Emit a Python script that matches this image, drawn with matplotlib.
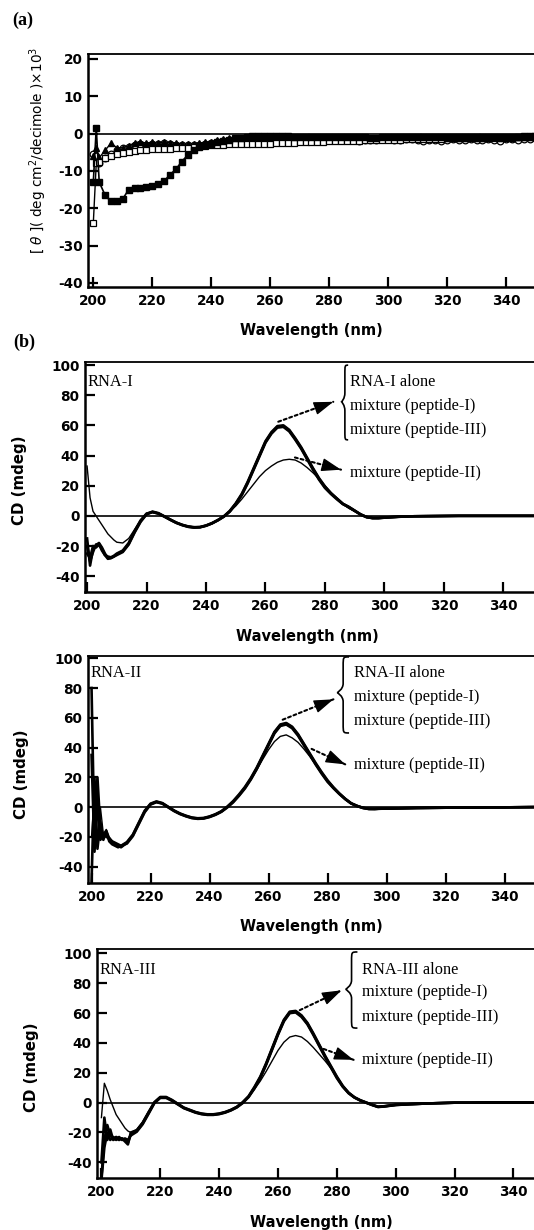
import numpy as np
import matplotlib
matplotlib.use('Agg')
import matplotlib.pyplot as plt
from matplotlib.path import Path
from matplotlib.patches import PathPatch

# ---------------- data: panel (a) ----------------
wl_a = np.concatenate([[200, 201], np.arange(202, 351, 2)])
theta_filled_sq = [-13, 1.5, -13, -16.5, -18.2, -18, -17.5, -15, -14.5, -14.5, -14.3, -14, -13.5, -12.8,
                   -11, -9.6, -7.5, -5.8, -4.5, -3.5, -3, -2.7, -2.4, -2, -1.6, -1.3, -1.1, -0.9, -0.7,
                   -0.6, -0.6, -0.6, -0.6, -0.7, -0.7, -0.8, -0.8, -0.8, -0.9, -0.9, -0.9, -0.9, -1, -1,
                   -1, -1, -1, -1, -1.1, -1.1, -1, -1, -1, -1, -1, -0.9, -0.9, -0.9, -0.9, -0.9, -0.9,
                   -0.9, -0.9, -0.9, -0.9, -0.8, -0.8, -0.8, -0.8, -0.8, -0.8, -0.8, -0.8, -0.8, -0.7,
                   -0.7, -0.7]
theta_open_sq = [-24, -8, -7.5, -6.5, -6, -5.5, -5.2, -5, -4.8, -4.5, -4.3, -4.2, -4.2, -4.2, -4.2, -4,
                 -4, -3.8, -3.6, -3.4, -3.3, -3.2, -3.1, -3, -2.9, -2.9, -2.9, -2.8, -2.8, -2.8, -2.7,
                 -2.7, -2.6, -2.6, -2.5, -2.5, -2.4, -2.3, -2.3, -2.2, -2.2, -2.1, -2.1, -2, -2, -1.9,
                 -1.9, -1.8, -1.8, -1.7, -1.7, -1.6, -1.6, -1.6, -1.5, -1.5, -1.5, -1.4, -1.4, -1.4,
                 -1.4, -1.3, -1.3, -1.3, -1.3, -1.2, -1.2, -1.2, -1.2, -1.1, -1.1, -1.1, -1.1, -1.0,
                 -1.0, -1.0, -1.0]
theta_open_ci = [-5.5, -6, -8, -6.5, -5.5, -4.5, -4, -3.5, -3, -2.8, -3, -2.7, -2.8, -2.5, -2.8, -3, -3,
                 -3.2, -3.2, -3, -2.8, -2.5, -2.2, -2, -1.8, -1.8, -1.7, -1.6, -1.5, -1.5, -1.5, -1.5,
                 -1.6, -1.5, -1.6, -1.5, -1.6, -1.7, -1.6, -1.5, -1.6, -1.7, -1.8, -1.6, -1.7, -1.8, -2,
                 -1.8, -1.7, -1.6, -1.5, -1.4, -1.6, -1.8, -1.5, -1.4, -1.6, -2, -1.8, -1.6, -1.9, -1.7,
                 -1.5, -1.8, -1.6, -1.5, -1.7, -1.6, -1.4, -1.6, -1.9, -1.5, -1.4, -1.6, -1.4, -1.5,
                 -1.3]
theta_triangle = [-6, -4, -6.5, -4.5, -2.6, -3.8, -3.8, -3.3, -2.5, -2.2, -2.6, -2.3, -2.6, -2.2, -2.5,
                  -2.5, -2.8, -2.8, -2.8, -2.6, -2.4, -2.2, -1.8, -1.5, -1.3, -1.2, -1.2, -1.1, -1, -1,
                  -1.1, -1, -1.1, -1.2, -1.1, -1, -1.1, -1.2, -1.1, -1.2, -1.3, -1.2, -1.1, -1.2, -1.3,
                  -1.2, -1.1, -1.2, -1.3, -1.2, -1.1, -1.2, -1.3, -1.2, -1.1, -1.2, -1.1, -1.2, -1.3,
                  -1.2, -1.1, -1.2, -1.1, -1.2, -1.1, -1.0, -1.1, -1.2, -1.1, -1.0, -1.1, -1.0, -1.1,
                  -1.0, -0.9, -1.0, -0.9]

# ---------------- data: panel (b) ----------------
wl_b = [200, 201, 202, 203, 204, 205, 206, 207, 208, 209, 210,
        212, 214, 216, 218, 220, 222, 224, 226, 228, 230,
        232, 234, 236, 238, 240, 242, 244, 246, 248, 250,
        252, 254, 256, 258, 260, 262, 264, 266, 268, 270,
        272, 274, 276, 278, 280, 282, 284, 286, 288, 290,
        292, 294, 296, 298, 300,
        305, 310, 315, 320, 325, 330, 335, 340, 345, 350]

rna1_alone = [-15, -33, -22, -20, -18, -21, -25, -28, -28, -27, -26,
              -24, -19, -11, -4, 1, 2.5, 1.5, -0.5, -2.5, -4.5,
              -6, -7, -7.5, -7.5, -6.5, -5, -3, -0.5, 3, 8,
              14, 22, 31, 40, 49, 55, 59, 59.5, 56.5, 51,
              45, 38, 31, 24.5, 19, 15, 11.5, 8, 6, 3.5,
              1, -0.8, -1.5, -1.5, -1.2,
              -0.6, -0.3, -0.2, -0.1, 0, 0, 0, 0, 0, 0]
rna1_pep1 = [-20, -30, -24, -19, -18.5, -22, -26, -28.5, -28, -27, -25.5,
             -23.5, -18.5, -10.5, -3.5, 1.2, 2.8, 1.8, -0.3, -2.5, -4.5,
             -6, -7.2, -7.8, -7.6, -6.6, -5, -2.8, -0.3, 3.3, 8.3,
             14.5, 22.5, 31.5, 40.5, 49.5, 55.5, 59.5, 60, 57, 51.5,
             45.5, 38.5, 31.5, 25, 19.5, 15, 11.5, 8, 5.8, 3.3,
             0.8, -0.9, -1.5, -1.5, -1.2,
             -0.6, -0.3, -0.2, -0.1, 0, 0, 0, 0, 0, 0]
rna1_pep3 = [-25, -28, -20, -21, -19, -23, -26, -27, -27.5, -26.5, -25,
             -23, -18, -10, -3, 1.5, 2.5, 1.5, -0.5, -2.7, -4.7,
             -6.2, -7.3, -7.7, -7.4, -6.4, -4.8, -2.8, -0.5, 2.8, 7.7,
             13.6, 21.5, 30.5, 39.5, 48.5, 54.5, 58.5, 59, 56, 50.5,
             44.5, 37.5, 30.5, 24, 18.5, 14.5, 11, 7.8, 5.7, 3.3,
             0.9, -0.8, -1.4, -1.4, -1.1,
             -0.5, -0.3, -0.2, -0.1, 0, 0, 0, 0, 0, 0]
rna1_pep2 = [33, 12, 3, 0, -3, -6, -9, -12, -14, -16, -17.5,
             -18, -15, -9, -3, 1.5, 2.5, 1.5, -0.5, -2.5, -4.5,
             -6, -7, -7.5, -7.5, -6.5, -5, -3, 0, 3, 6.5,
             11, 16, 21, 26, 30, 33, 35.5, 37, 37.5, 37,
             35, 32, 28.5, 24.5, 20, 15.5, 11.5, 8, 5, 3,
             1, -0.5, -1.2, -1.2, -1,
             -0.5, -0.3, -0.2, -0.1, 0, 0, 0, 0, 0, 0]

rna2_alone = [80, -25, 20, -15, -20, -18, -22, -24, -25, -26, -27,
              -24, -19, -11, -3, 2, 3.5, 2.5, 0, -2.5, -4.5,
              -6, -7.2, -7.7, -7.5, -6.5, -5, -3, 0, 3.5, 8,
              13, 19, 26, 34, 42, 50, 55, 56, 53.5, 48.5,
              42, 35.5, 29, 23, 17.5, 13, 9, 5.5, 2.5, 0.8,
              -0.5, -1.2, -1.2, -1, -1,
              -0.8, -0.6, -0.5, -0.4, -0.3, -0.3, -0.2, -0.2, -0.1, 0]
rna2_pep1 = [-50, 20, -28, -10, -22, -16, -23, -25, -26, -27, -26,
             -23.5, -18.5, -10.5, -2.5, 2.3, 3.8, 2.7, 0.2, -2.3, -4.3,
             -5.8, -7, -7.5, -7.3, -6.3, -4.8, -2.8, 0.3, 4, 8.5,
             13.5, 19.5, 26.5, 34.5, 42.5, 50.5, 55.5, 56.5, 54, 49,
             42.5, 36, 29.5, 23.5, 18, 13.3, 9.2, 5.6, 2.6, 0.8,
             -0.5, -1.1, -1.2, -1, -1,
             -0.8, -0.6, -0.5, -0.4, -0.3, -0.3, -0.2, -0.2, -0.1, 0]
rna2_pep3 = [35, -30, 5, -22, -18, -20, -21, -23, -24, -25, -26,
             -24.5, -19.5, -11.5, -3.5, 1.7, 3.3, 2.3, -0.2, -2.7, -4.7,
             -6.2, -7.4, -7.9, -7.7, -6.7, -5.2, -3.2, -0.3, 3.2, 7.6,
             12.5, 18.5, 25.5, 33.5, 41.5, 49.5, 54.5, 55.5, 53, 48,
             41.5, 35, 28.5, 22.5, 17, 12.7, 8.8, 5.3, 2.4, 0.7,
             -0.6, -1.3, -1.3, -1.1, -1,
             -0.8, -0.6, -0.5, -0.4, -0.3, -0.3, -0.2, -0.2, -0.1, 0]
rna2_pep2 = [-20, 10, -25, 0, -18, -15, -20, -23, -25, -26, -27,
             -24, -19, -11, -3, 2, 3.5, 2.5, 0, -2.5, -4.5,
             -6, -7.2, -7.7, -7.5, -6.5, -5, -3, 0, 3.5, 8,
             13, 18.5, 25, 32, 38.5, 44, 47.5, 48.5, 46.5, 43.5,
             39, 34, 28.5, 23, 17.5, 13, 9, 5.5, 2.5, 0.8,
             -0.5, -1.2, -1.2, -1, -1,
             -0.8, -0.6, -0.5, -0.4, -0.3, -0.3, -0.2, -0.2, -0.1, 0]

rna3_alone = [-50, -25, -15, -22, -24, -23, -24, -24, -25, -27, -21,
              -19, -14, -7, 0, 3.5, 3.5, 1.5, -1, -3.5, -5,
              -6.5, -7.5, -8, -8, -7.5, -6.5, -5, -3, 0, 4,
              10, 17, 26, 36, 46, 55, 60.5, 61, 58, 53,
              46, 38.5, 31, 24, 17, 11, 6.5, 3.5, 1.5, 0,
              -1.5, -2.8, -2.5, -2, -1.5,
              -1, -0.6, -0.3, 0, 0, 0.1, 0.2, 0.2, 0.1, 0.1]
rna3_pep1 = [-40, -10, -25, -18, -25, -24, -25, -24, -26, -28, -20,
             -18.5, -13.5, -6.5, 0.3, 3.8, 3.8, 1.8, -0.8, -3.3, -4.8,
             -6.3, -7.3, -7.8, -7.8, -7.3, -6.3, -4.8, -2.8, 0.3, 4.3,
             10.5, 17.5, 26.5, 36.5, 46.5, 55.5, 61, 61.5, 58.5, 53.5,
             46.5, 39, 31.5, 24.5, 17.5, 11.3, 6.7, 3.6, 1.6, 0.1,
             -1.4, -2.7, -2.4, -1.9, -1.4,
             -1, -0.6, -0.3, 0, 0, 0.1, 0.2, 0.2, 0.1, 0.1]
rna3_pep3 = [-52, -30, -20, -25, -23, -25, -23, -25, -24, -25, -22,
             -19.5, -14.5, -7.5, -0.3, 3.2, 3.2, 1.2, -1.2, -3.7, -5.2,
             -6.7, -7.7, -8.2, -8.2, -7.7, -6.7, -5.2, -3.2, -0.3, 3.7,
             9.5, 16.5, 25.5, 35.5, 45.5, 54.5, 60, 60.5, 57.5, 52.5,
             45.5, 38, 30.5, 23.5, 16.5, 10.7, 6.3, 3.4, 1.4, -0.1,
             -1.6, -2.9, -2.6, -2.1, -1.6,
             -1, -0.6, -0.3, 0, 0, 0.1, 0.2, 0.2, 0.1, 0.1]
rna3_pep2 = [-10, 13, 8, 2, -3, -8, -11, -14, -17, -19, -20,
             -18, -13, -6, 0, 3.5, 3.5, 1.5, -1, -3.5, -5,
             -6.5, -7.5, -8, -8, -7.5, -6.5, -5, -3, 0, 4,
             9, 14.5, 21, 28, 35, 40.5, 44, 45, 44, 41,
             37, 32.5, 28, 23, 17, 11, 6.5, 3.5, 1.5, 0,
             -1.5, -2.8, -2.5, -2, -1.5,
             -1, -0.6, -0.3, 0, 0, 0.1, 0.2, 0.2, 0.1, 0.1]

x_ticks = [200, 220, 240, 260, 280, 300, 320, 340]
y_ticks_a = [-40, -30, -20, -10, 0, 10, 20]
y_ticks_b = [-40, -20, 0, 20, 40, 60, 80, 100]

# ---------------- figure ----------------
plt.rcParams['axes.unicode_minus'] = False
plt.rcParams['font.family'] = 'DejaVu Sans'
plt.rcParams['mathtext.fontset'] = 'dejavusans'

W, H = 534, 1230
fig = plt.figure(figsize=(W / 100, H / 100), dpi=100)

SERIF = 'Liberation Serif'


def box(left, top, bottom):
    return [left / W, 1 - bottom / H, 1 - left / W, (bottom - top) / H]


def style(ax, xlim, ylim, yticks):
    ax.set_xlim(*xlim)
    ax.set_ylim(*ylim)
    ax.set_xticks(x_ticks)
    ax.set_yticks(yticks)
    ax.spines['right'].set_visible(False)
    ax.spines['left'].set_linewidth(1.8)
    ax.spines['bottom'].set_linewidth(1.8)
    ax.spines['top'].set_linewidth(1.3)
    ax.tick_params(direction='in', length=7, width=1.6, top=False, right=False,
                   labelsize=9.8)
    ax.tick_params(axis='x', pad=5)
    ax.tick_params(axis='y', pad=4)
    for lab in ax.get_xticklabels() + ax.get_yticklabels():
        lab.set_fontweight('bold')
    ax.axhline(0, color='k', lw=1.2, zorder=1)


def ftext(px, py, s, **kw):
    fig.text(px / W, 1 - py / H, s, **kw)


def brace(ax, xl, xr, yb, yt, ytip, lw=1.2):
    xm = (xl + xr) / 2
    h = 0.12 * (yt - yb)
    verts = [(xr, yt), (xm, yt), (xm, yt), (xm, yt - h),
             (xm, ytip + h),
             (xm, ytip + 0.35 * h), (xl, ytip), (xl, ytip),
             (xl, ytip), (xm, ytip - 0.35 * h), (xm, ytip - h),
             (xm, yb + h),
             (xm, yb), (xm, yb), (xr, yb)]
    codes = [Path.MOVETO, Path.CURVE4, Path.CURVE4, Path.CURVE4,
             Path.LINETO,
             Path.CURVE4, Path.CURVE4, Path.CURVE4,
             Path.CURVE4, Path.CURVE4, Path.CURVE4,
             Path.LINETO,
             Path.CURVE4, Path.CURVE4, Path.CURVE4]
    ax.add_patch(PathPatch(Path(verts, codes), fc='none', ec='k', lw=lw,
                           clip_on=False))


def arrow(ax, start, end):
    # dotted shaft
    ax.annotate('', xy=end, xytext=start,
                arrowprops=dict(arrowstyle='-', linestyle=(0, (1.4, 1.4)), lw=1.5,
                                color='k', shrinkA=0, shrinkB=0))
    # solid filled head
    hx = start[0] + 0.78 * (end[0] - start[0])
    hy = start[1] + 0.78 * (end[1] - start[1])
    ax.annotate('', xy=end, xytext=(hx, hy),
                arrowprops=dict(arrowstyle='-|>,head_length=1.0,head_width=0.34',
                                lw=1.0, color='k', shrinkA=0, shrinkB=0,
                                mutation_scale=12))


# ---------------- panel (a) ----------------
ax = fig.add_axes(box(88, 54, 287))
ms = 4.8
ax.plot(wl_a, theta_open_ci, '-o', color='k', mfc='white', mec='k', ms=ms, lw=1.0, mew=0.9)
ax.plot(wl_a, theta_triangle, '-^', color='k', mfc='k', ms=ms, lw=1.0)
ax.plot(wl_a, theta_open_sq, '-s', color='k', mfc='white', mec='k', ms=ms, lw=1.0, mew=0.9)
ax.plot(wl_a, theta_filled_sq, '-s', color='k', mfc='k', ms=ms, lw=1.2)
style(ax, (198.2, 349.5), (-41.1, 21.3), y_ticks_a)
ftext(12, 20, '(a)', family=SERIF, fontweight='bold', fontsize=13, ha='left', va='center')
ftext(38, 150, r'[ $\theta$ ]( deg cm$^2$/decimole )$\times$10$^3$', rotation=90,
      fontsize=9.8, ha='center', va='center')
ftext(311, 331, 'Wavelength (nm)', fontsize=10.5, fontweight='bold', ha='center', va='center')

# ---------------- panels (b) ----------------
panels = [
    dict(box=(85, 362, 592), xlim=(199.3, 350.3), ylim=(-50.5, 102),
         alone=rna1_alone, p1=rna1_pep1, p3=rna1_pep3, p2=rna1_pep2, name='RNA-I',
         brace=(285.6, 287.8, 50.4, 99.9, 75.6), tx=288.4, ty=[86, 70.2, 54.3, 25.7],
         a1=((264.3, 62.4), (282.8, 75.6)), a2=((269.9, 38.7), (285.4, 30.6)),
         ylab=(19.6, 480), xlab=(307, 636)),
    dict(box=(88, 656, 883), xlim=(198.8, 350), ylim=(-51, 101.5),
         alone=rna2_alone, p1=rna2_pep1, p3=rna2_pep3, p2=rna2_pep2, name='RNA-II',
         brace=(283.3, 287.3, 49.8, 100.9, 76.9), tx=289.1, ty=[87.5, 71.3, 55.3, 25.8],
         a1=((264.8, 58.7), (282.0, 72.4)), a2=((274.6, 39.1), (286.0, 28.7)),
         ylab=(22, 774), xlab=(311, 927)),
    dict(box=(97, 949, 1178), xlim=(198.5, 347), ylim=(-50.5, 103),
         alone=rna3_alone, p1=rna3_pep1, p3=rna3_pep3, p2=rna3_pep2, name='RNA-III',
         brace=(283.0, 287.0, 50, 101, 76), tx=288.7, ty=[86.4, 71.5, 54.9, 26],
         a1=((267.4, 62), (281.6, 75.3)), a2=((275.5, 36), (285.7, 28.7)),
         ylab=(31.5, 1067), xlab=(321, 1222)),
]

for p in panels:
    ax = fig.add_axes(box(*p['box']))
    ax.plot(wl_b, p['p2'], color='k', lw=1.0)
    ax.plot(wl_b, p['alone'], color='k', lw=1.9)
    ax.plot(wl_b, p['p1'], color='k', lw=1.9)
    ax.plot(wl_b, p['p3'], color='k', lw=1.9)
    style(ax, p['xlim'], p['ylim'], y_ticks_b)
    ax.text(p['xlim'][0] + 0.9, p['ty'][0], p['name'], family=SERIF, fontsize=11.8,
            ha='left', va='baseline')
    brace(ax, *p['brace'])
    labels = [p['name'] + ' alone', 'mixture (peptide-I)', 'mixture (peptide-III)',
              'mixture (peptide-II)']
    for lab, yy in zip(labels, p['ty']):
        ax.text(p['tx'], yy, lab, family=SERIF, fontsize=11.8, ha='left', va='baseline',
                clip_on=False)
    arrow(ax, *p['a1'])
    arrow(ax, *p['a2'])
    ftext(p['ylab'][0], p['ylab'][1], 'CD (mdeg)', rotation=90, fontsize=10.8,
          fontweight='bold', ha='center', va='center')
    ftext(p['xlab'][0], p['xlab'][1], 'Wavelength (nm)', fontsize=10.5,
          fontweight='bold', ha='center', va='center')

ftext(13, 342, '(b)', family=SERIF, fontweight='bold', fontsize=13, ha='left', va='center')

fig.savefig('out.png', dpi=100)
